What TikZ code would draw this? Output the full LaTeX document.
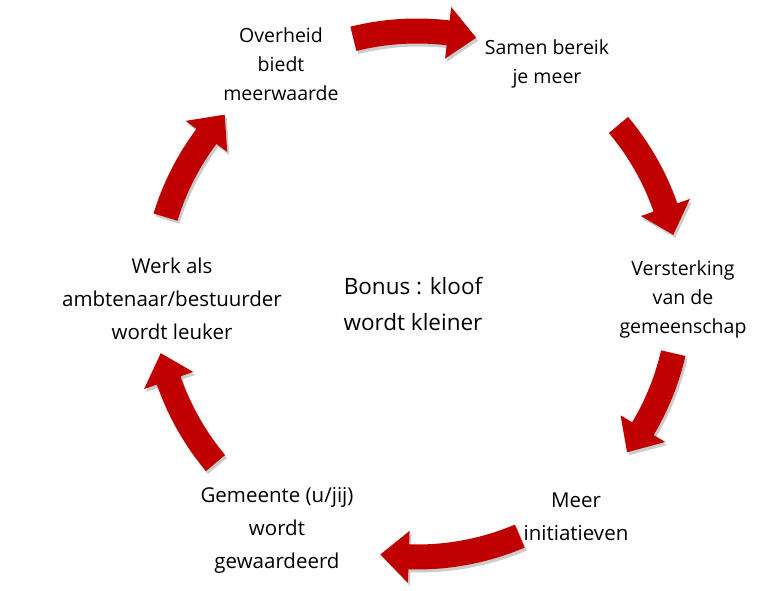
\documentclass[tikz,border=0pt]{standalone}
\usepackage{fontspec}
\setmainfont{Open Sans}
\definecolor{arrred}{HTML}{C00000}
\newcommand\cyclearrow[3][arrred]{%
  \fill[#1] (#2:275.5) arc[start angle=#2, end angle=#3+6.2, radius=275.5]
    -- (#3+6.2:289) -- (#3:263) -- (#3+6.2:237) -- (#3+6.2:250.5)
    arc[start angle=#3+6.2, end angle=#2, radius=250.5] -- cycle;}
\begin{document}
\begin{tikzpicture}[x=1pt,y=1pt,
  bigtxt/.style={align=center,font=\fontsize{20.5}{33}\selectfont,inner sep=0pt},
  smalltxt/.style={align=center,font=\fontsize{19.5}{29}\selectfont,inner sep=0pt}]
\useasboundingbox (0,0) rectangle (757,590);
\begin{scope}[shift={(417,296)}]
  \foreach \a/\b in {104/77,40/13,-13/-37,-67/-98,-140/-167,163/137}{
    \begin{scope}[shift={(2,-3)}]
      \cyclearrow[black!20]{\a}{\b}
    \end{scope}
    \cyclearrow{\a}{\b}
  }
\end{scope}
\node[smalltxt] (over) at (281,526) {Overheid\\biedt\\meerwaarde};
\node[smalltxt] (samen) at (547,526) {Samen bereik\\je meer};
\node[smalltxt] (verst) at (683,291) {Versterking\\van de\\gemeenschap};
\node[bigtxt] (meer) at (576,73) {Meer\\initiatieven};
\node[bigtxt] (gem) at (277,60) {Gemeente (u/jij)\\wordt\\gewaardeerd};
\node[bigtxt] (werk) at (172,291) {Werk als\\ambtenaar/bestuurder\\wordt leuker};
\node[bigtxt,font=\fontsize{22.5}{36}\selectfont] (bonus) at (413,286) {Bonus : kloof\\wordt kleiner};
\end{tikzpicture}
\end{document}
